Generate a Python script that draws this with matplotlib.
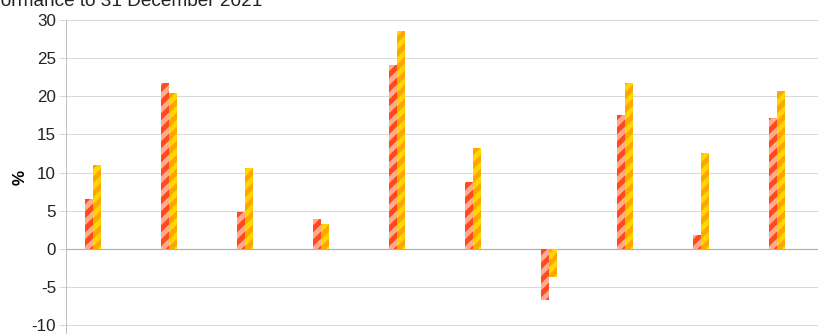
import numpy as np
import matplotlib.pyplot as plt
from matplotlib.collections import LineCollection
from matplotlib.transforms import IdentityTransform

plt.rcParams['font.family'] = ['Liberation Sans', 'DejaVu Sans']

# calendar-year returns, two series per period
periods = np.arange(10)
fund = [6.5, 21.8, 4.8, 3.9, 24.1, 8.8, -6.7, 17.5, 1.8, 17.1]
index = [11.0, 20.5, 10.6, 3.3, 28.6, 13.2, -3.7, 21.7, 12.6, 20.7]
yticks = [-10, -5, 0, 5, 10, 15, 20, 25, 30]

fig = plt.figure(figsize=(818 / 72, 334 / 72), dpi=72)
ax = fig.add_axes([66 / 818, 0, 752 / 818, 314 / 334])
ax.set_xlim(-0.355, 9.54)
ax.set_ylim(-11.14, 30)


def add_stripes(bars, color, period=14, lw=5):
    # diagonal "/" stripes in pixel space, clipped to each bar
    for p in bars.patches:
        pts = p.get_transform().transform(p.get_path().vertices)
        x0, y0 = pts.min(axis=0)
        x1, y1 = pts.max(axis=0)
        wpx = x1 - x0
        segs = []
        c = y0 - wpx - period
        while c < y1 + period:
            segs.append([(x0 - 2, c - 2), (x1 + 2, c + wpx + 2)])
            c += period
        lc = LineCollection(segs, colors=color, linewidths=lw,
                            transform=IdentityTransform(), zorder=4)
        ax.add_collection(lc)
        lc.set_clip_path(p)  # after add_collection, which would reset it


w = 0.105
b1 = ax.bar(periods - w / 2, fund, width=w, color='#ffab90', linewidth=0, zorder=3)
b2 = ax.bar(periods + w / 2, index, width=w, color='#ffa500', linewidth=0, zorder=3)
add_stripes(b1, '#ff4b1c')
add_stripes(b2, '#ffd400')

ax.set_yticks(yticks)
ax.set_yticklabels([str(v) for v in yticks], fontsize=17, color='#222222')
ax.set_xticks([])
ax.grid(axis='y', color='#d9d9d9', linewidth=1, zorder=0)
ax.axhline(0, color='#b0b0b0', linewidth=1.2, zorder=2)
ax.tick_params(axis='y', length=7, width=1, color='#d9d9d9', pad=3)

for side in ['top', 'right', 'bottom']:
    ax.spines[side].set_visible(False)
ax.spines['left'].set_color('#b0b0b0')

ax.set_ylabel('%', fontsize=17, fontweight='bold', labelpad=4)

fig.text(262 / 818, 1 - 6 / 334, 'Performance to 31 December 2021',
         fontsize=19, ha='right', va='baseline', color='#222222')

fig.savefig('out.png', dpi=72)
